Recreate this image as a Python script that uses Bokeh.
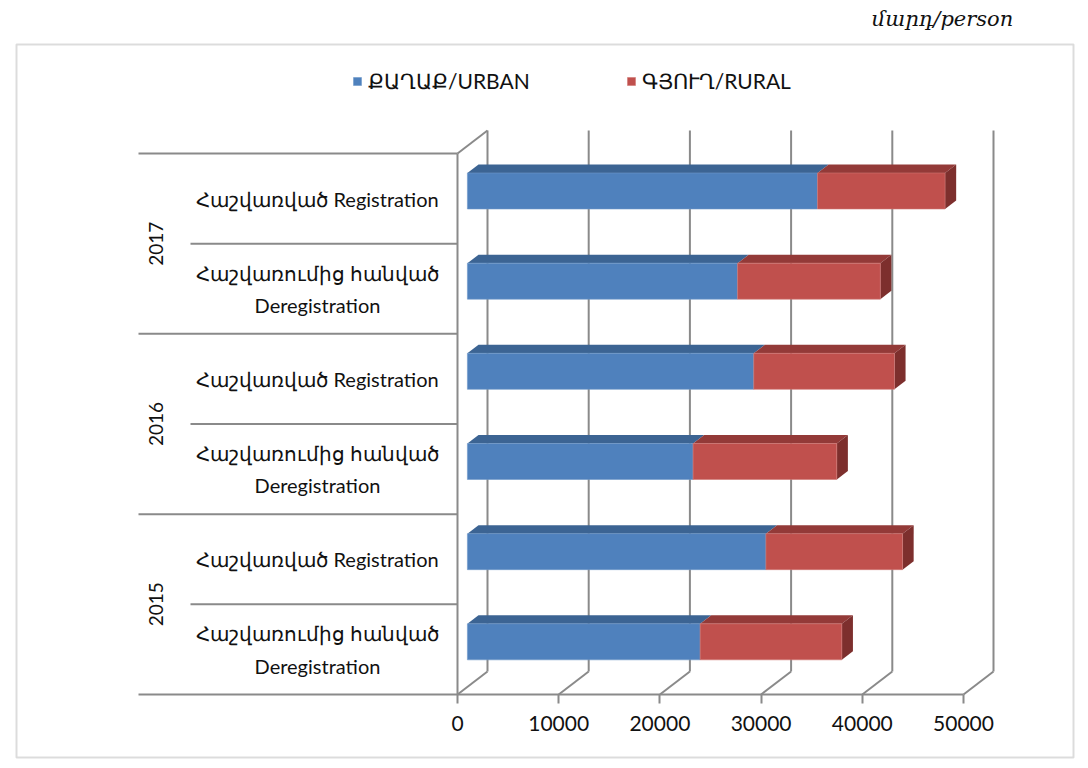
import numpy as np
from bokeh.plotting import figure
from bokeh.models import (ColumnDataSource, Range1d, FixedTicker, Legend,
                          LegendItem, BoxAnnotation)
from bokeh.core.properties import value
from bokeh.embed import file_html
from bokeh.resources import INLINE

# ---------------- data ----------------
years = ["2015", "2016", "2017"]
sub_labels = ["Հաշվառումից հանված\nDeregistration", "Հաշվառված Registration"]
# bars from bottom to top: 2015 Dereg, 2015 Reg, 2016 Dereg, 2016 Reg, 2017 Dereg, 2017 Reg
urban = [23000, 29500, 22300, 28300, 26700, 34600]
rural = [14000, 13500, 14200, 13900, 14100, 12600]
x_ticks = [0, 10000, 20000, 30000, 40000, 50000]
series_names = ["ՔԱՂԱՔ/URBAN", "ԳՅՈՒՂ/RURAL"]
unit_label = "մարդ/person"

# ---------------- geometry (page pixels -> data) ----------------
W, H = 1080, 764
X0 = 457
X50 = 963
PPX = (X50 - X0) / 50000.0
Y0 = 694
BAND = (694 - 153) / 6.0


def xd(px):
    return (px - X0) / PPX


def yd(py):
    return (Y0 - py) / BAND


DX = 30 / PPX          # depth of the 3D box in data units
DY = 23 / BAND
F1 = 0.33              # bar front face position along depth
F2 = 0.37              # bar depth
BAR_H = 36 / BAND

GRID = "#8a8a8a"
BLUE, BLUE_TOP = "#4F81BD", "#3C6493"
RED, RED_TOP, RED_SIDE = "#C0504D", "#933A38", "#7D2F2D"
FONT = "Lato"

p = figure(width=W, height=H, output_backend="svg", toolbar_location=None,
           x_range=Range1d(xd(0), xd(W)), y_range=Range1d(yd(H), yd(0)),
           y_axis_location=None, min_border_left=0, min_border_right=0,
           min_border_top=0, min_border_bottom=0)
p.outline_line_color = None
p.xgrid.visible = False
p.ygrid.visible = False

# x axis, fixed at the front floor edge
ax = p.xaxis[0]
ax.fixed_location = 0
ax.ticker = FixedTicker(ticks=x_ticks)
ax.axis_line_color = None
ax.major_tick_in = 0
ax.major_tick_out = 9
ax.major_tick_line_color = GRID
ax.major_tick_line_width = 2
ax.minor_tick_line_color = None
ax.major_label_text_font = FONT
ax.major_label_text_font_size = "21px"
ax.major_label_text_color = "#111111"
ax.major_label_standoff = 12

n = len(urban)
u = np.array(urban, dtype=float)
r = np.array(rural, dtype=float)
tot = u + r
c = np.arange(n) + 0.5

# ---------------- walls / grid ----------------
xt = np.array(x_ticks, dtype=float)
top_wall = 6 + DY
p.segment(x0=xt + DX, y0=[DY] * len(xt), x1=xt + DX, y1=[top_wall] * len(xt),
          line_color=GRID, line_width=2)
p.segment(x0=xt, y0=[0] * len(xt), x1=xt + DX, y1=[DY] * len(xt),
          line_color=GRID, line_width=2)
p.segment(x0=[0, 0], y0=[0, 6], x1=[0, DX], y1=[6, 6 + DY],
          line_color=GRID, line_width=2)
p.segment(x0=[xd(138)], y0=[0], x1=[x_ticks[-1]], y1=[0], line_color=GRID, line_width=2)
grp_y = [2, 4, 6]
sub_y = [1, 3, 5]
p.segment(x0=[xd(138)] * 3, y0=grp_y, x1=[0] * 3, y1=grp_y, line_color=GRID, line_width=2)
p.segment(x0=[xd(190)] * 3, y0=sub_y, x1=[0] * 3, y1=sub_y, line_color=GRID, line_width=2)

# ---------------- bars ----------------
fx, fy = F1 * DX, F1 * DY
bx, by = F2 * DX, F2 * DY
bot = c - BAR_H / 2 + fy
top = c + BAR_H / 2 + fy

src_u = ColumnDataSource(dict(left=np.full(n, fx), right=u + fx, bottom=bot, top=top))
src_r = ColumnDataSource(dict(left=u + fx, right=tot + fx, bottom=bot, top=top))


def top_faces(left, right):
    xs = [[a, b, b + bx, a + bx] for a, b in zip(left, right)]
    ys = [[t, t, t + by, t + by] for t in top]
    return xs, ys


xs, ys = top_faces(np.full(n, fx), u + fx)
p.patches(xs, ys, fill_color=BLUE_TOP, line_color=None)
ru = p.quad(left="left", right="right", bottom="bottom", top="top", source=src_u,
            fill_color=BLUE, line_color="#6f98c9", line_width=0.6)

xs, ys = top_faces(u + fx, tot + fx)
p.patches(xs, ys, fill_color=RED_TOP, line_color=None)
side_xs = [[t, t + bx, t + bx, t] for t in tot + fx]
side_ys = [[b, b + by, tp + by, tp] for b, tp in zip(bot, top)]
p.patches(side_xs, side_ys, fill_color=RED_SIDE, line_color=None)
rr = p.quad(left="left", right="right", bottom="bottom", top="top", source=src_r,
            fill_color=RED, line_color="#d07774", line_width=0.6)

# ---------------- category labels ----------------
cat_text = [sub_labels[i % 2] for i in range(n)]
p.text(x=[xd(317)] * n, y=c, text=cat_text, text_font=value(FONT), text_font_size="20px",
       text_align="center", text_baseline="middle", text_color="#111111",
       text_line_height=1.35)
p.text(x=[xd(155)] * len(years), y=[1, 3, 5], text=years, angle=np.pi / 2,
       text_font=value(FONT), text_font_size="19px", text_align="center",
       text_baseline="middle", text_color="#111111")

# unit label
p.text(x=[xd(942)], y=[yd(18)], text=[unit_label], text_font=value("DejaVu Serif"),
       text_font_style="italic", text_font_size="21px", text_align="center",
       text_baseline="middle", text_color="#111111")

# ---------------- legend ----------------
legend = Legend(items=[LegendItem(label=series_names[0], renderers=[ru]),
                       LegendItem(label=series_names[1], renderers=[rr])],
                location=(352, H - 94), orientation="horizontal",
                border_line_color=None, background_fill_alpha=0,
                padding=0, margin=0, spacing=96, label_standoff=6,
                glyph_width=10, glyph_height=10,
                label_text_font=FONT, label_text_font_size="21px",
                label_text_color="#111111")
p.add_layout(legend)

# outer chart border
p.add_layout(BoxAnnotation(left=16, right=1073, top=44, bottom=757,
                           left_units="canvas", right_units="canvas",
                           top_units="canvas", bottom_units="canvas",
                           fill_alpha=0, line_color=GRID, line_width=2))

open("out.html", "w").write(file_html(p, INLINE))
